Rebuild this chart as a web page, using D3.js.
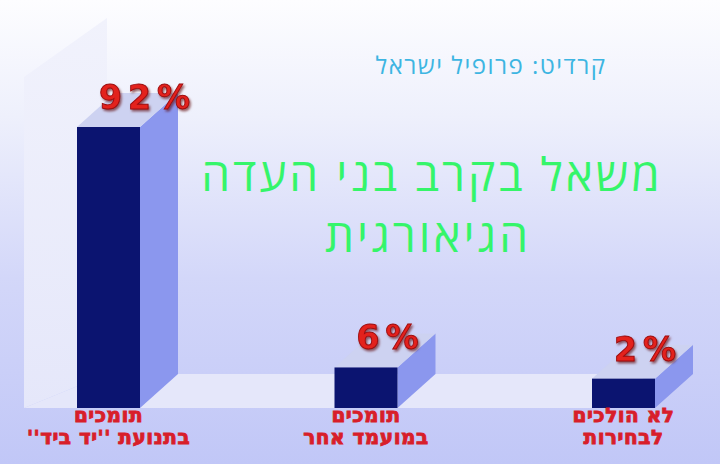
<!DOCTYPE html>
<html><head><meta charset="utf-8">
<script src="https://cdn.jsdelivr.net/npm/d3@7"></script>
<style>html,body{margin:0;padding:0;background:#fff}svg{display:block}</style>
</head><body>
<script>
const categories = ["yad", "other", "none"];
const values = [92, 6, 2];
const valueLabels = ["92%", "6%", "2%"];
const catLine1 = ["תומכים", "תומכים", "לא הולכים"];
const catLine2 = ["בתנועת ''יד ביד''", "במועמד אחר", "לבחירות"];
const titleLines = ["משאל בקרב בני העדה", "הגיאורגית"];
const creditText = "קרדיט: פרופיל ישראל";

const W = 720, H = 464;
const base = 408, dx = 38, dy = -34, barW = 63;

const svg = d3.select("body").append("svg").attr("width", W).attr("height", H);
const defs = svg.append("defs");
const bg = defs.append("linearGradient").attr("id","bg").attr("x1",0).attr("y1",0).attr("x2",0).attr("y2",1);
[[0,"#fdfdff"],[0.25,"#eef0fc"],[0.6,"#d3d7f9"],[1,"#c1c7f7"]].forEach(([o,c])=>bg.append("stop").attr("offset",o).attr("stop-color",c));
const wg = defs.append("linearGradient").attr("id","wall").attr("x1",0).attr("y1",0).attr("x2",0).attr("y2",1);
[[0,"#f1f2fc"],[1,"#e5e7fa"]].forEach(([o,c])=>wg.append("stop").attr("offset",o).attr("stop-color",c));
const sh = defs.append("filter").attr("id","sh").attr("x","-20%").attr("y","-20%").attr("width","140%").attr("height","150%");
sh.append("feDropShadow").attr("dx",1.5).attr("dy",2).attr("stdDeviation",1.2).attr("flood-color","#5a0000").attr("flood-opacity",0.6);

svg.append("rect").attr("width",W).attr("height",H).attr("fill","url(#bg)");

const x = d3.scalePoint().domain(categories).range([108.5, 623.5]);
const y = d3.scaleLinear().domain([-8.5, 92]).range([base, 127]);

// wall and floor
svg.append("path").attr("fill","url(#wall)")
  .attr("d", d3.line()([[24,base],[24,77],[107,18],[107,base+dy],[24,base]]) + "Z");
svg.append("path").attr("fill","#e5e7fa")
  .attr("d", d3.line()([[24,base],[610,base],[610+dx,base+dy],[107,base+dy]]) + "Z");

const g = svg.selectAll("g.bar").data(categories).join("g").attr("class","bar");
g.each(function(c,i){
  const gg = d3.select(this);
  const x0 = x(c) - barW/2, x1 = x(c) + barW/2, yt = y(values[i]);
  gg.append("path").attr("fill","#8b97ee")
    .attr("d", d3.line()([[x1,base],[x1,yt],[x1+dx,yt+dy],[x1+dx,base+dy]])+"Z");
  gg.append("path").attr("fill","#cdd2f1")
    .attr("d", d3.line()([[x0,yt],[x1,yt],[x1+dx,yt+dy],[x0+dx,yt+dy]])+"Z");
  gg.append("rect").attr("x",x0).attr("y",yt).attr("width",barW).attr("height",base-yt).attr("fill","#0b1470");
  gg.append("text").attr("x", x0+22).attr("y", yt-18)
    .attr("font-family","DejaVu Sans, sans-serif").attr("font-weight","bold").attr("font-size",33)
    .attr("letter-spacing",6).attr("fill","#e3201f").attr("stroke","#9a0a0a").attr("stroke-width",0.9)
    .attr("filter","url(#sh)").text(valueLabels[i]);
  const t = gg.append("text").attr("direction","rtl").attr("text-anchor","middle")
    .attr("font-family","DejaVu Sans, sans-serif").attr("font-weight","bold").attr("font-size",20)
    .attr("letter-spacing",0.5)
    .attr("fill","#d81e2a").attr("stroke","#d81e2a").attr("stroke-width",0.9);
  t.append("tspan").attr("x",x(c)).attr("y",422).text(catLine1[i]);
  t.append("tspan").attr("x",x(c)).attr("y",444).text(catLine2[i]);
});

svg.append("text").attr("direction","rtl").attr("text-anchor","middle").attr("x",491).attr("y",74)
  .attr("font-family","Open Sans, DejaVu Sans, sans-serif").attr("font-size",24).attr("letter-spacing",1.5)
  .attr("fill","#3db5e2").text(creditText);

const tt = svg.append("text").attr("direction","rtl").attr("text-anchor","middle")
  .attr("font-family","Open Sans, DejaVu Sans, sans-serif").attr("font-size",46).attr("letter-spacing",3)
  .attr("fill","#35f56a");
tt.append("tspan").attr("x",432).attr("y",191).text(titleLines[0]);
tt.append("tspan").attr("x",428).attr("y",252).text(titleLines[1]);
</script>
</body></html>
